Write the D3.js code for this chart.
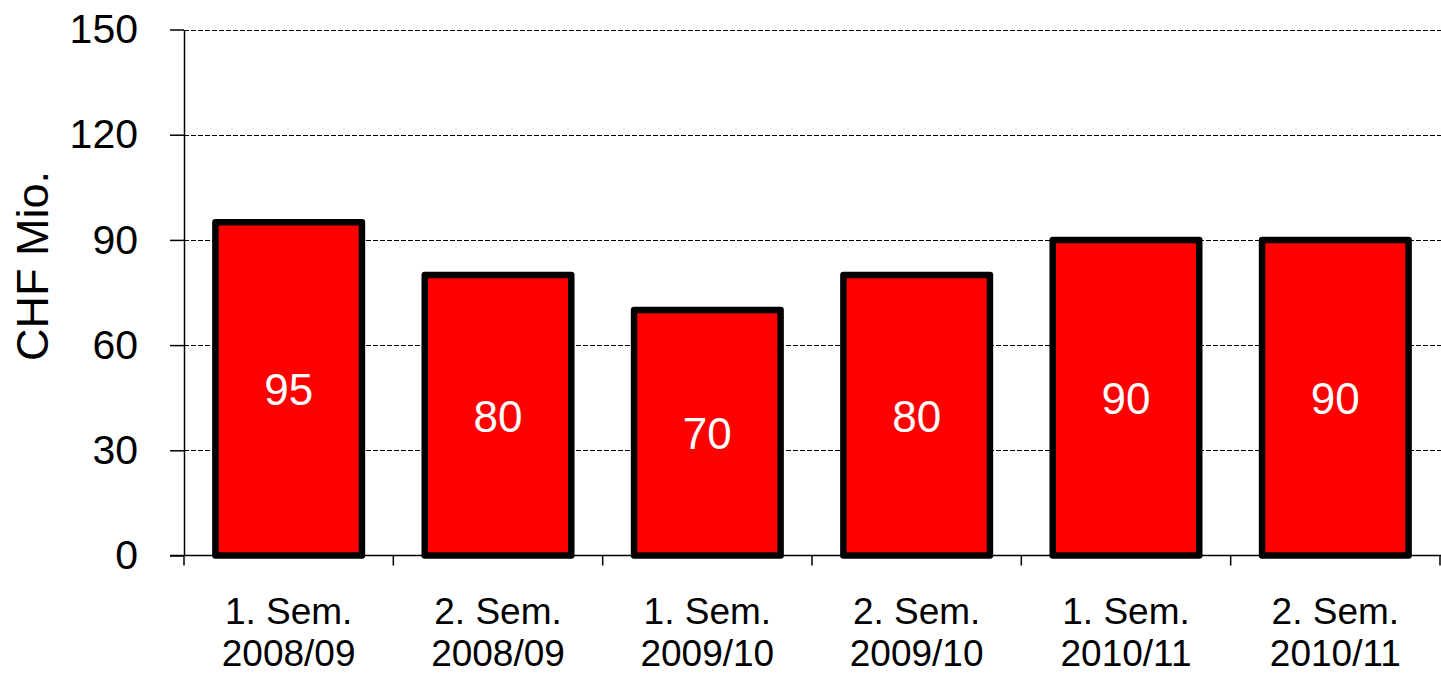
<!DOCTYPE html>
<html>
<head>
<meta charset="utf-8">
<script src="https://cdn.jsdelivr.net/npm/d3@7"></script>
<style>
  body { margin: 0; background: #fff; }
  svg { display: block; font-family: "Liberation Sans", Arial, sans-serif; }
</style>
</head>
<body>
<div id="chart"></div>
<script>
// data
const semesters = ["1. Sem.", "2. Sem.", "1. Sem.", "2. Sem.", "1. Sem.", "2. Sem."]
const years = ["2008/09", "2008/09", "2009/10", "2009/10", "2010/11", "2010/11"]
const values = [95, 80, 70, 80, 90, 90]
const yTicks = [0, 30, 60, 90, 120, 150]

const width = 1441, height = 674
const margin = {top: 29.5, right: 1, bottom: 118.5, left: 184}

const svg = d3.select("#chart").append("svg")
    .attr("width", width)
    .attr("height", height)

const data = values.map((v, i) => ({key: i, sem: semesters[i], year: years[i], value: v}))

const x = d3.scaleBand()
    .domain(data.map(d => d.key))
    .range([margin.left, width - margin.right])
    .paddingInner(0.3)
    .paddingOuter(0.15)

const y = d3.scaleLinear()
    .domain([0, 150])
    .range([height - margin.bottom, margin.top])

// gridlines (dashed)
svg.append("g")
    .selectAll("line")
    .data(yTicks.filter(t => t > 0))
    .join("line")
    .attr("x1", margin.left)
    .attr("x2", width)
    .attr("y1", d => Math.round(y(d)) + 0.5)
    .attr("y2", d => Math.round(y(d)) + 0.5)
    .attr("stroke", "#000")
    .attr("stroke-width", 1.2)
    .attr("stroke-dasharray", "5,2")

// y axis
const yAxis = d3.axisLeft(y)
    .tickValues(yTicks)
    .tickSize(14)
    .tickPadding(32)
    .tickSizeOuter(0)

svg.append("g")
    .attr("class", "y-axis")
    .attr("transform", `translate(${margin.left}, 0)`)
    .call(yAxis)
    .call(g => g.selectAll("text")
        .attr("font-size", 41)
        .attr("fill", "#000")
        .attr("font-family", "Liberation Sans, Arial, sans-serif"))
    .call(g => g.selectAll("line, path").attr("stroke", "#000").attr("stroke-width", 1.5))

// x axis line and ticks at band boundaries
const step = x.step()
const boundaries = d3.range(data.length + 1).map(i => margin.left + i * step)

svg.append("line")
    .attr("x1", margin.left - 14)
    .attr("x2", width)
    .attr("y1", y(0))
    .attr("y2", y(0))
    .attr("stroke", "#000")
    .attr("stroke-width", 1.5)

svg.append("g")
    .selectAll("line")
    .data(boundaries)
    .join("line")
    .attr("x1", d => d)
    .attr("x2", d => d)
    .attr("y1", y(0))
    .attr("y2", y(0) + 10)
    .attr("stroke", "#000")
    .attr("stroke-width", 1.5)

// bars
svg.append("g")
    .selectAll("rect")
    .data(data)
    .join("rect")
    .attr("x", d => x(d.key))
    .attr("y", d => y(d.value))
    .attr("width", x.bandwidth())
    .attr("height", d => y(0) - y(d.value))
    .attr("fill", "#ff0000")
    .attr("stroke", "#000")
    .attr("stroke-width", 6.5)
    .attr("stroke-linejoin", "round")

// value labels
svg.append("g")
    .selectAll("text")
    .data(data)
    .join("text")
    .attr("x", d => x(d.key) + x.bandwidth() / 2)
    .attr("y", d => (y(d.value) + y(0)) / 2)
    .attr("dy", "0.37em")
    .attr("text-anchor", "middle")
    .attr("font-size", 44)
    .attr("fill", "#fff")
    .text(d => d.value)

// category labels, two lines
const cat = svg.append("g")
    .selectAll("text")
    .data(data)
    .join("text")
    .attr("text-anchor", "middle")
    .attr("font-size", 37)
    .attr("fill", "#000")

cat.append("tspan")
    .attr("x", d => x(d.key) + x.bandwidth() / 2)
    .attr("y", 624)
    .text(d => d.sem)

cat.append("tspan")
    .attr("x", d => x(d.key) + x.bandwidth() / 2)
    .attr("y", 666)
    .text(d => d.year)

// y axis title
svg.append("text")
    .attr("transform", "translate(48, 266) rotate(-90)")
    .attr("text-anchor", "middle")
    .attr("font-size", 45)
    .attr("fill", "#000")
    .text("CHF Mio.")
</script>
</body>
</html>
